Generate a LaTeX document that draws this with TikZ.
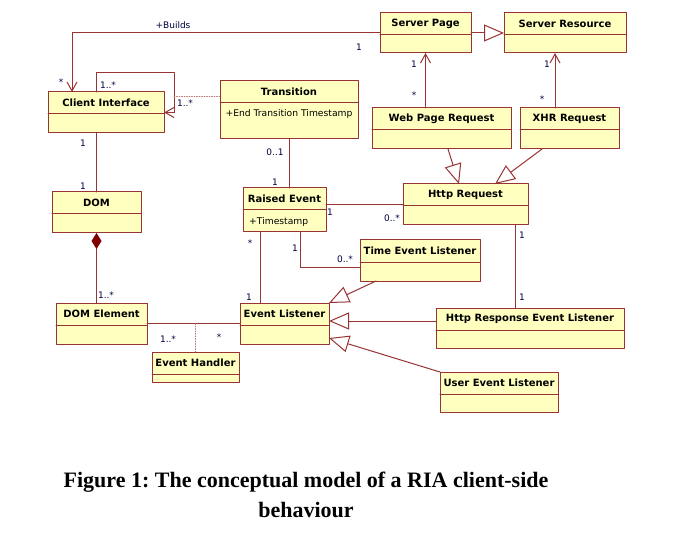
\documentclass[tikz,border=0pt]{standalone}
\usepackage{fontspec}
\setmainfont{DejaVu Sans}
\newfontfamily\captionfont{Liberation Serif}
\usepackage{tikz}
\usetikzlibrary{arrows.meta}
\usetikzlibrary{calc}
\definecolor{uml-fill}{HTML}{FFFFC0}
\definecolor{uml-line}{HTML}{993333}
\definecolor{uml-dark}{HTML}{800000}
\definecolor{uml-mult}{HTML}{000040}
\frenchspacing

% class box: name, top left corner, width, height, title
\newcommand{\umlclass}[5]{%
    \node[umlbox, minimum width=#3pt, minimum height=#4pt] (#1) at (#2) {};
    \node[umltitle] (#1-title) at ($(#1.north)+(0,11)$) {#5};
    \draw[umlsep] ($(#1.north west)+(0,22)$) -- ($(#1.north east)+(0,22)$);
}

\begin{document}
\begin{tikzpicture}[x=1pt, y=-1pt, line cap=round, line join=round,
    umlbox/.style={draw=uml-line, fill=uml-fill, line width=1pt, anchor=north west, inner sep=0pt, outer sep=0pt},
    umlsep/.style={draw=uml-line, line width=1pt},
    umltitle/.style={font=\fontsize{10}{12}\selectfont\bfseries, inner sep=0pt},
    umlattr/.style={font=\fontsize{9.2}{11}\selectfont, inner sep=0pt},
    mult/.style={font=\fontsize{9}{11}\selectfont, text=uml-mult, inner sep=0pt},
    assoc/.style={draw=uml-line, line width=1pt},
    navig/.style={assoc, -{Straight Barb[length=9pt, width=10pt]}},
    gen/.style={assoc, -{Triangle[open, length=20pt, width=17pt]}},
    comp/.style={assoc, {Diamond[length=16pt, width=10pt, color=uml-dark, fill=uml-dark]}-},
    dotlink/.style={draw=uml-line!70, line width=0.8pt, dash pattern=on 1pt off 1.5pt}]

    % frame
    \useasboundingbox (0,0) rectangle (676,534);

    % classes
    \umlclass{cli}{48,92}{116}{41}{Client Interface}
    \umlclass{trans}{220,81}{138}{58}{Transition}
    \umlclass{spage}{380,13}{91}{40}{Server Page}
    \umlclass{sres}{504,13}{122}{40}{Server Resource}
    \umlclass{webreq}{372,108}{139}{41}{Web Page Request}
    \umlclass{xhrreq}{520,108}{99}{41}{XHR Request}
    \umlclass{dom}{52,192}{89}{41}{DOM}
    \umlclass{raised}{243,188}{83}{44}{Raised Event}
    \umlclass{httpreq}{403,184}{125}{41}{Http Request}
    \umlclass{timeev}{360,240}{120}{41}{Time Event Listener}
    \umlclass{domel}{56,303}{91}{41}{DOM Element}
    \umlclass{evl}{240,303}{89}{41}{Event Listener}
    \umlclass{evh}{152,352}{87}{30}{Event Handler}
    \umlclass{httpresp}{436,308}{188}{40}{Http Response Event Listener}
    \umlclass{userev}{440,372}{118}{40}{User Event Listener}

    % attributes
    \node[umlattr] (trans-attr) at ($(trans.north)+(0,33)$) {+End Transition Timestamp};
    \node[umlattr, anchor=west] (raised-attr) at ($(raised.north west)+(6,34)$) {+Timestamp};

    % helper points
    \coordinate (builds-end) at ($(cli.north west)+(24,0)$);
    \coordinate (loop-start) at ($(cli.north west)+(48,0)$);
    \coordinate (loop-corner) at (174,73);
    \coordinate (trans-link) at ($(trans.north west)+(0,15)$);
    \coordinate (evl-top) at ($(evl.north west)+(20,0)$);
    \coordinate (raised-bot) at ($(raised.south west)+(57,0)$);
    \coordinate (timeev-in) at ($(timeev.west)+(0,7)$);
    \coordinate (sres-in) at ($(sres.south west)+(51,0)$);
    \coordinate (resp-in) at ($(httpreq.south east)+(-13,0)$);
    \coordinate (resp-out) at ($(httpresp.north west)+(0,13)$);

    % associations
    \draw[navig] (spage.west) -| (builds-end);
    \draw[navig] (loop-start) |- (loop-corner) |- (cli.east);
    \draw[dotlink] (trans-link) -- (trans-link -| loop-corner);
    \draw[assoc] (dom.north |- cli.south) -- (dom.north);
    \draw[comp] (dom.south) -- (dom.south |- domel.north);
    \draw[assoc] (domel.east) -- (domel.east -| evl.west);
    \draw[dotlink] (evh.north |- domel.east) -- (evh.north);
    \draw[assoc] (evl-top) -- (evl-top |- raised.south);
    \draw[assoc] (trans.south) -- (trans.south |- raised.north);
    \draw[assoc] (httpreq.west -| raised.east) -- (httpreq.west);
    \draw[assoc] (raised-bot) |- (timeev-in);
    \draw[navig] (spage.south |- webreq.north) -- (spage.south);
    \draw[navig] (sres-in |- xhrreq.north) -- (sres-in);
    \draw[assoc] (resp-in) -- (resp-in |- httpresp.north);

    % generalizations
    \draw[gen] (spage.east) -- (sres.west);
    \draw[gen] ($(webreq.south west)+(76,0)$) -- ($(httpreq.north west)+(56,0)$);
    \draw[gen] ($(xhrreq.south west)+(22,0)$) -- ($(httpreq.north west)+(92,0)$);
    \draw[gen] ($(timeev.south west)+(16,0)$) -- (evl.north east);
    \draw[gen] (resp-out) -- (resp-out -| evl.east);
    \draw[gen] (userev.north west) -- ($(evl.north east)+(0,35)$);

    % multiplicities
    \node[mult] (builds-name) at (173,25) {+Builds};
    \node[mult] (builds-src) at (359,47) {1};
    \node[mult] (builds-dst) at (61,82) {*};
    \node[mult] (loop-src) at (108,85) {1..*};
    \node[mult] (loop-dst) at (185,103) {1..*};
    \node[mult] (cli-dom-a) at (83,143) {1};
    \node[mult] (cli-dom-b) at (83,186) {1};
    \node[mult] (dom-el) at (106,295) {1..*};
    \node[mult] (el-evl-a) at (168,339) {1..*};
    \node[mult] (el-evl-b) at (219,337) {*};
    \node[mult] (evl-raised-a) at (249,297) {1};
    \node[mult] (evl-raised-b) at (250,243) {*};
    \node[mult] (trans-raised-a) at (275,152) {0..1};
    \node[mult] (trans-raised-b) at (275,182) {1};
    \node[mult] (raised-http-a) at (330,212) {1};
    \node[mult] (raised-http-b) at (392,218) {0..*};
    \node[mult] (raised-time-a) at (295,248) {1};
    \node[mult] (raised-time-b) at (345,259) {0..*};
    \node[mult] (web-page-a) at (414,64) {1};
    \node[mult] (web-page-b) at (414,95) {*};
    \node[mult] (xhr-res-a) at (547,64) {1};
    \node[mult] (xhr-res-b) at (542,99) {*};
    \node[mult] (http-resp-a) at (522,235) {1};
    \node[mult] (http-resp-b) at (522,297) {1};

    % caption
    \node[font={\captionfont\fontsize{22}{30}\selectfont\bfseries}, align=center] (caption) at (306,495)
        {Figure 1: The conceptual model of a RIA client-side\\behaviour};

\end{tikzpicture}
\end{document}
